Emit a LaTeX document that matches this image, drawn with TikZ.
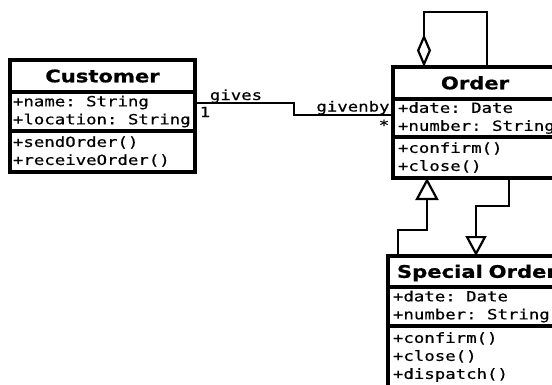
\documentclass[tikz,border=0pt]{standalone}
\usepackage{fontspec}
\usetikzlibrary{arrows.meta}
\newfontfamily\umlmonofam[FakeStretch=1.24,FakeBold=0.5]{DejaVu Sans Mono}
\newfontfamily\umltitlefam[FakeStretch=1.22,FakeBold=0.8]{DejaVu Sans Bold}
\newcommand\umlmono{\umlmonofam\fontsize{14}{18}\selectfont}
\newcommand\umltitle{\umltitlefam\fontsize{17.3}{20}\selectfont}
\newcommand\msp{\hphantom{M}}
\tikzset{
  comp/.style={draw, line width=3.2pt, fill=white, anchor=north west,
    inner xsep=5pt, inner ysep=0pt, outer sep=0pt, align=left, font=\umlmono},
  ttl/.style={comp, align=center, font=\umltitle, text height=12.6pt, text depth=0pt},
  conn/.style={line width=2.2pt},
  lbl/.style={font=\umlmono, inner sep=0pt, anchor=base},
}
\begin{document}
\begin{tikzpicture}[x=1pt,y=-1pt]
\useasboundingbox (0,0) rectangle (552,384);
\clip (0,0) rectangle (552,384);
\fill[white] (0,0) rectangle (552,384);

% Customer
\node[ttl, text width=179pt, inner xsep=3pt, minimum height=32pt] (ct) at (10,60) {Customer};
\node[comp, text width=179pt, inner xsep=3pt, minimum height=39pt] (ca) at (10,92) {\mbox{+name:\msp String}\\\mbox{+location:\msp String}};
\node[comp, text width=179pt, inner xsep=3pt, minimum height=41pt] (cm) at (10,131) {+sendOrder()\\+receiveOrder()};

% Order
\node[ttl, text width=154pt, minimum height=32pt] (ot) at (393,67) {Order};
\node[comp, text width=154pt, minimum height=38pt] (oa) at (393,99) {\mbox{+date:\msp Date}\\\mbox{+number:\msp String}};
\node[comp, text width=154pt, minimum height=41pt] (om) at (393,137) {+confirm()\\+close()};

% Special Order
\node[ttl, align=left, text width=152pt, inner xsep=9pt, minimum height=31pt] (st) at (388,256) {\mbox{Special Order}};
\node[comp, text width=160pt, minimum height=39pt] (sa) at (388,287) {\mbox{+date:\msp Date}\\\mbox{+number:\msp String}};
\node[comp, text width=160pt, minimum height=62pt] (sm) at (388,326) {+confirm()\\+close()\\+dispatch()};

% association Customer -- Order
\coordinate (b1) at (294,103);
\coordinate (b2) at (294,115);
\draw[conn] (ca.east |- b1) -- (b1) -- (b2) -- (oa.west |- b2);
\node[lbl] (lgives) at (236,100) {gives};
\node[lbl] (lone) at (205,117) {1};
\node[lbl] (lgivenby) at (353,111.5) {givenby};
\node[lbl] (lstar) at (384,130) {*};

% self aggregation on Order
\coordinate (a1) at (487,12);
\coordinate (a2) at (424,12);
\draw[conn, -{Diamond[open, length=33pt, width=14pt]}] (ot.north -| a1) -- (a1) -- (a2) -- (ot.north -| a2);

% generalization Special Order -> Order
\coordinate (g1) at (398,230);
\coordinate (g2) at (427,230);
\draw[conn, -{Triangle[open, length=22pt, width=23pt]}] (st.north -| g1) -- (g1) -- (g2) -- (om.south -| g2);

% generalization Order -> Special Order
\coordinate (h1) at (509,206);
\coordinate (h2) at (476,206);
\draw[conn, -{Triangle[open, length=20pt, width=21pt]}] (om.south -| h1) -- (h1) -- (h2) -- (st.north -| h2);
\end{tikzpicture}
\end{document}
